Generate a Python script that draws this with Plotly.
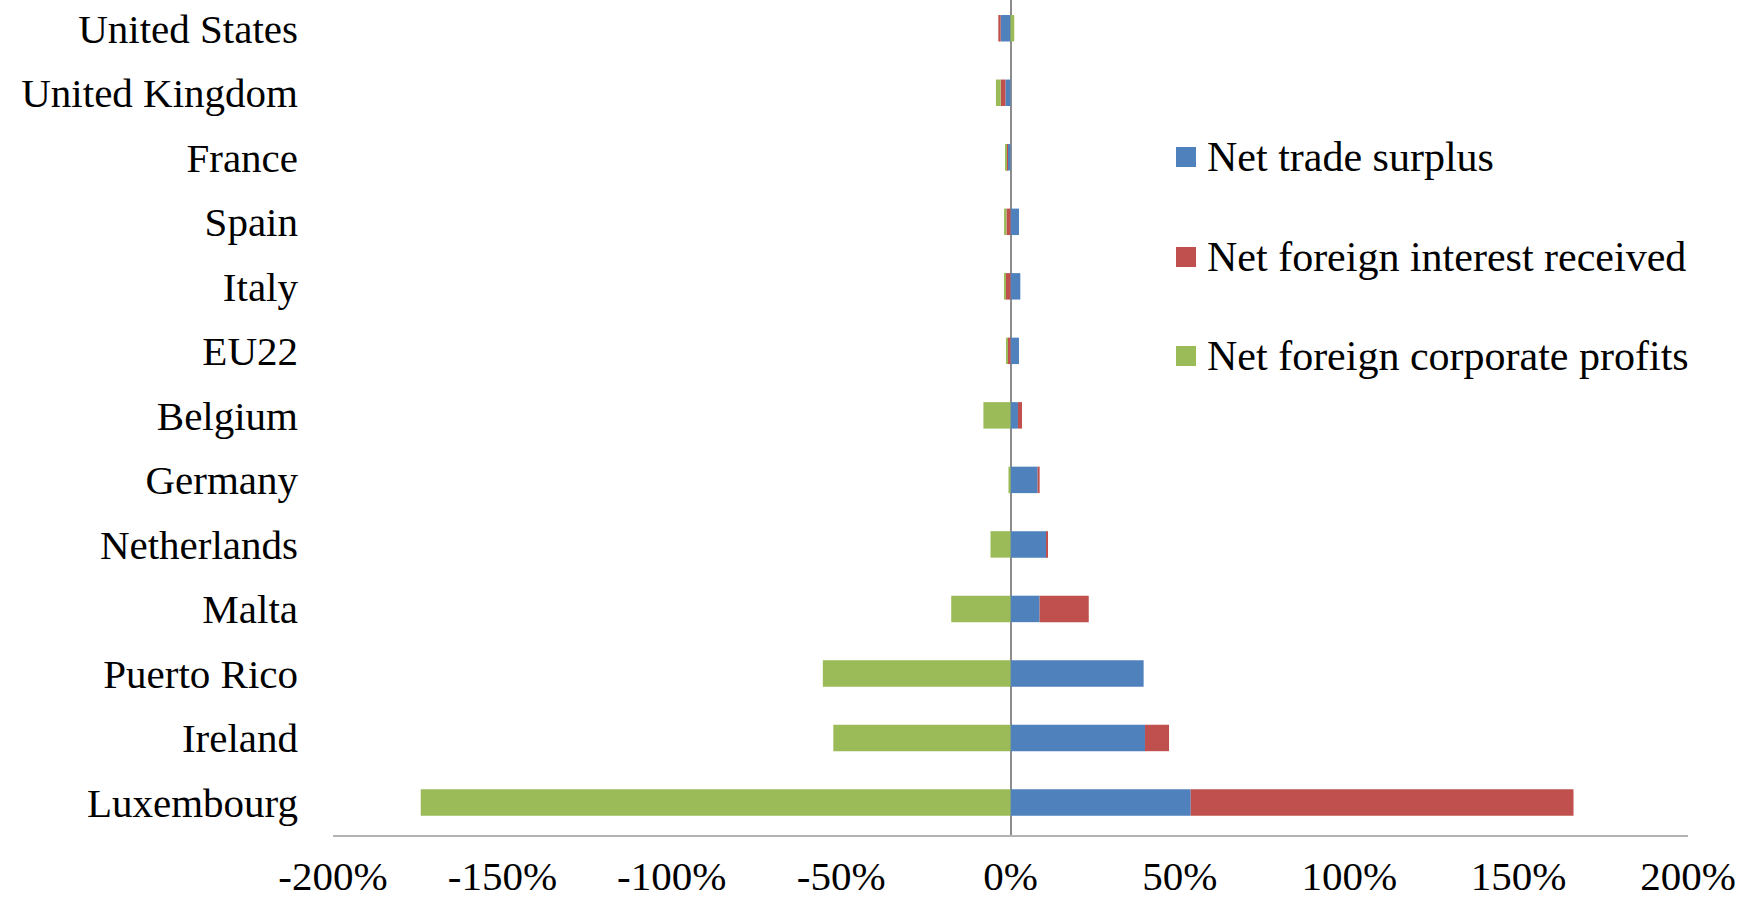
import plotly.graph_objects as go

# Countries, bottom to top
countries = ["Luxembourg", "Ireland", "Puerto Rico", "Malta", "Netherlands", "Germany",
             "Belgium", "EU22", "Italy", "Spain", "France", "United Kingdom", "United States"]

# Components, in percent
net_trade_surplus = [53.2, 39.7, 39.3, 8.6, 10.7, 8.0, 2.2, 2.5, 2.9, 2.5, -1.0, -1.5, -2.9]
net_interest = [113.0, 7.1, 0.0, 14.5, 0.3, 0.6, 1.2, -0.8, -1.5, -1.2, -0.3, -1.4, -0.7]
net_profits = [-174.1, -52.3, -55.4, -17.5, -5.9, -0.6, -8.0, -0.3, -0.4, -0.7, -0.3, -1.4, 1.1]

series_names = ["Net trade surplus", "Net foreign interest received", "Net foreign corporate profits"]
series_colors = ["#4F81BD", "#C0504D", "#9BBB59"]

x_ticks = [-200, -150, -100, -50, 0, 50, 100, 150, 200]
x_tick_labels = ["-200%", "-150%", "-100%", "-50%", "0%", "50%", "100%", "150%", "200%"]

FONT = "Liberation Serif"
W, H = 1750, 900
L, R, T, B = 333, 62, 0, 65
PW, PH = W - L - R, H - T - B

fig = go.Figure()
for name, vals, color in zip(series_names, [net_trade_surplus, net_interest, net_profits], series_colors):
    fig.add_trace(go.Bar(
        y=countries, x=vals, name=name, orientation="h",
        marker=dict(color=color, line=dict(width=0)),
        width=0.41, showlegend=False,
    ))

# Legend drawn as square swatches with labels to the right
def px_x(p):
    return (p - L) / PW

def px_y(p):
    return 1 - (p - T) / PH

legend_rows = [157, 257, 356]
for name, color, cy in zip(series_names, series_colors, legend_rows):
    fig.add_shape(type="rect", xref="paper", yref="paper",
                  x0=px_x(1176), x1=px_x(1196), y0=px_y(cy + 10), y1=px_y(cy - 10),
                  fillcolor=color, line=dict(width=0))
    fig.add_annotation(xref="paper", yref="paper", x=px_x(1205), y=px_y(cy),
                       xanchor="left", yanchor="middle", showarrow=False,
                       text=name, font=dict(family=FONT, size=42, color="black"))

fig.update_layout(
    width=W, height=H,
    margin=dict(l=L, r=R, t=T, b=B, autoexpand=False),
    barmode="relative",
    plot_bgcolor="white", paper_bgcolor="white",
    font=dict(family=FONT, size=41, color="black"),
    showlegend=False,
)
fig.update_xaxes(
    range=[-200, 200], tickvals=x_ticks, ticktext=x_tick_labels,
    showgrid=False, zeroline=True, zerolinecolor="#8C8C8C", zerolinewidth=1.5,
    showline=True, linecolor="#B3B3B3", linewidth=2,
    ticks="", ticklabelstandoff=4, layer="above traces", automargin=False,
    tickfont=dict(family=FONT, size=41, color="black"),
)
fig.update_yaxes(
    range=[-0.504, 12.438], showgrid=False, zeroline=False, showline=False,
    ticks="", ticklabelstandoff=34, automargin=False,
    tickfont=dict(family=FONT, size=41, color="black"),
)

fig.write_html("out.html")
